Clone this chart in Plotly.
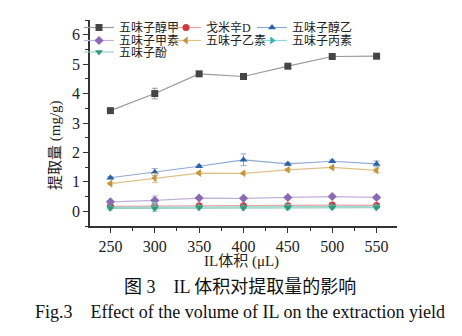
import plotly.graph_objects as go

volume = [250, 300, 350, 400, 450, 500, 550]

names = ["五味子醇甲", "戈米辛D", "五味子醇乙", "五味子甲素", "五味子乙素", "五味子丙素", "五味子酚"]

chun_jia = [3.42, 4.00, 4.67, 4.58, 4.93, 5.26, 5.27]
gomisin_d = [0.17, 0.18, 0.19, 0.19, 0.19, 0.21, 0.20]
chun_yi = [1.14, 1.33, 1.53, 1.75, 1.61, 1.70, 1.61]
jia_su = [0.32, 0.37, 0.45, 0.44, 0.47, 0.50, 0.47]
yi_su = [0.94, 1.13, 1.30, 1.29, 1.41, 1.49, 1.39]
bing_su = [0.13, 0.14, 0.15, 0.14, 0.15, 0.16, 0.15]
fen = [0.10, 0.10, 0.12, 0.11, 0.12, 0.12, 0.12]

err_chun_jia = [0.04, 0.18, 0.04, 0.05, 0.04, 0.04, 0.04]
err_gomisin_d = [0.02, 0.05, 0.02, 0.03, 0.02, 0.03, 0.05]
err_chun_yi = [0.04, 0.12, 0.04, 0.20, 0.04, 0.04, 0.10]
err_jia_su = [0.03, 0.15, 0.03, 0.03, 0.03, 0.03, 0.06]
err_yi_su = [0.04, 0.15, 0.04, 0.04, 0.04, 0.04, 0.07]
err_bing_su = [0.03, 0.15, 0.03, 0.03, 0.07, 0.03, 0.05]
err_fen = [0.02, 0.05, 0.02, 0.02, 0.03, 0.02, 0.03]

series = [chun_jia, gomisin_d, chun_yi, jia_su, yi_su, bing_su, fen]
errors = [err_chun_jia, err_gomisin_d, err_chun_yi, err_jia_su, err_yi_su, err_bing_su, err_fen]
marker_colors = ["#454545", "#d03a3a", "#2a62a6", "#8b6ab2", "#c2953a", "#33b5b0", "#2e9a76"]
line_colors = ["#9a9a9a", "#e8a3a3", "#8faad0", "#c3b1d8", "#dcc08a", "#93d8d5", "#8fcdb8"]
symbols = ["square", "circle", "triangle-up", "diamond", "triangle-left", "triangle-right", "triangle-down"]

SERIF = "Liberation Serif, Times New Roman, Noto Sans CJK SC, serif"

W, H = 462, 336
L, R, T, B = 90, 65, 20, 110
pw, ph = W - L - R, H - T - B

def px2paper_y(py):
    return (H - B - py) / ph

def px2paper_x(px):
    return (px - L) / pw

# legend grid: 3 columns x 3 rows (pixel anchors of the top of each entry box)
leg_cols = [79, 166, 252]
leg_rows = [13, 26, 37.5]

fig = go.Figure()
legend_layouts = {}
for i, (name, ys, es, mc, lc, sym) in enumerate(zip(names, series, errors, marker_colors, line_colors, symbols)):
    lid = "legend" if i == 0 else f"legend{i + 1}"
    fig.add_trace(go.Scatter(
        x=volume, y=ys, name=name, mode="lines+markers",
        line=dict(color=lc, width=1.2),
        marker=dict(symbol=sym, color=mc, size=7, line=dict(width=0)),
        error_y=dict(type="data", array=es, visible=True, color=lc, thickness=1, width=3),
        legend=lid, showlegend=True,
    ))
    legend_layouts[lid] = dict(
        x=px2paper_x(leg_cols[i % 3]), y=px2paper_y(leg_rows[i // 3]),
        xanchor="left", yanchor="top", orientation="v",
        bgcolor="rgba(0,0,0,0)", borderwidth=0,
        font=dict(family=SERIF, size=12, color="#222"),
        itemwidth=30, visible=True,
    )

fig.update_layout(
    width=W, height=H,
    margin=dict(l=L, r=R, t=T, b=B),
    showlegend=True,
    paper_bgcolor="white", plot_bgcolor="white",
    font=dict(family=SERIF, size=16, color="#222"),
    xaxis=dict(
        range=[227, 573], tickvals=volume, showgrid=False, zeroline=False,
        showline=True, linecolor="#333", linewidth=1.5,
        ticks="outside", ticklen=5, tickwidth=1.2, tickcolor="#333",
        minor=dict(ticks="outside", ticklen=3, tickwidth=1, tickcolor="#333", dtick=25, tick0=225),
        tickfont=dict(family=SERIF, size=16, color="#222"),
    ),
    yaxis=dict(
        range=[-0.5, 6.5], tickvals=[0, 1, 2, 3, 4, 5, 6], showgrid=False, zeroline=False,
        showline=True, linecolor="#333", linewidth=1.5,
        ticks="outside", ticklen=5, tickwidth=1.2, tickcolor="#333",
        minor=dict(ticks="outside", ticklen=3, tickwidth=1, tickcolor="#333", dtick=0.5, tick0=0),
        tickfont=dict(family=SERIF, size=16, color="#222"),
    ),
    annotations=[
        dict(text="提取量 (mg/g)", xref="paper", yref="paper", x=px2paper_x(55), y=px2paper_y(145),
             textangle=-90, showarrow=False, font=dict(family=SERIF, size=15, color="#222"),
             xanchor="center", yanchor="middle"),
        dict(text="IL体积 (μL)", xref="paper", yref="paper", x=px2paper_x(241), y=px2paper_y(261),
             showarrow=False, font=dict(family=SERIF, size=15, color="#222"),
             xanchor="center", yanchor="middle"),
        dict(text="图 3　IL 体积对提取量的影响", xref="paper", yref="paper", x=px2paper_x(122), y=px2paper_y(287),
             showarrow=False, font=dict(family=SERIF, size=18, color="#111"),
             xanchor="left", yanchor="middle"),
        dict(text="Fig.3　Effect of the volume of IL on the extraction yield", xref="paper", yref="paper",
             x=px2paper_x(33), y=px2paper_y(312),
             showarrow=False, font=dict(family=SERIF, size=18, color="#111"),
             xanchor="left", yanchor="middle"),
    ],
    **legend_layouts,
)

fig.write_html("out.html")
